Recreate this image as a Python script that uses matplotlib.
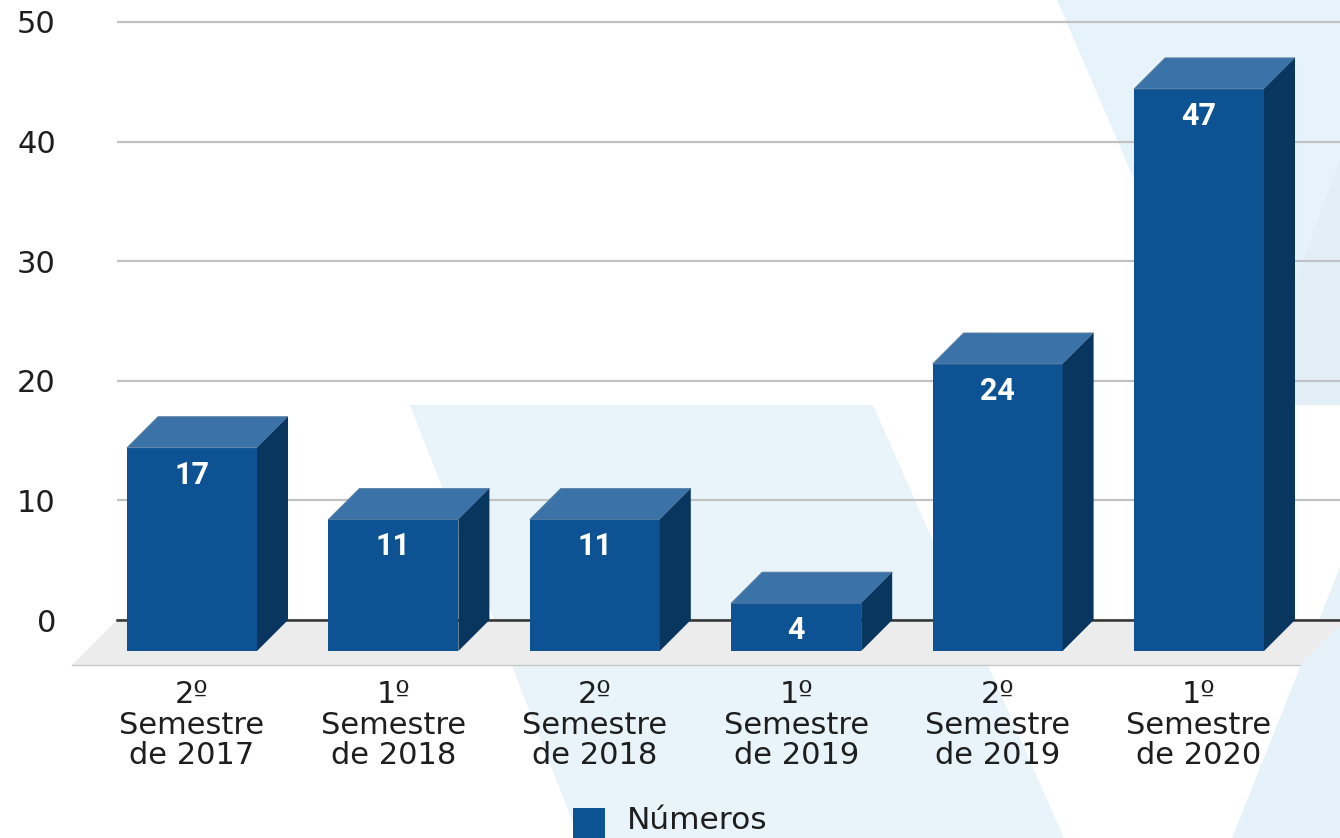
import matplotlib.pyplot as plt
from matplotlib.patches import Polygon, Rectangle

categories = ["2º\nSemestre\nde 2017", "1º\nSemestre\nde 2018", "2º\nSemestre\nde 2018",
              "1º\nSemestre\nde 2019", "2º\nSemestre\nde 2019", "1º\nSemestre\nde 2020"]
values = [17, 11, 11, 4, 24, 47]
y_ticks = [0, 10, 20, 30, 40, 50]
series_name = "Números"

W, H = 1340, 838
FRONT = '#0d5394'
TOP = '#3b73a8'
SIDE = '#08365f'
TEXT = '#1e1e1e'

# pixel layout (top-left origin)
AX_LEFT, AX_RIGHT, AX_TOP, AX_BOTTOM = 117, 1340, 10, 620
PX_PER_CAT = 201.4
FIRST_CENTER = 192
PX_PER_UNIT = 11.96
BAR_W_PX = 130
DEPTH_PX = 31
FLOOR_PX = 45


def px(x, y):
    return (x / W, 1 - y / H)


fig = plt.figure(figsize=(W / 100, H / 100), dpi=100)
fig.patch.set_facecolor('white')

# light blue decorative background shapes
shapes = [
    ([(410, 405), (873, 405), (1064, 838), (579, 838)], '#e8f4fa'),
    ([(1057, 0), (1340, 0), (1340, 405), (1231, 405)], '#e7f3fa'),
    ([(1340, 160), (1340, 405), (1250, 405)], '#e2eff7'),
    ([(1340, 567), (1340, 838), (1232, 838)], '#e6f2f9'),
]
for pts, c in shapes:
    fig.add_artist(Polygon([px(*p) for p in pts], closed=True, transform=fig.transFigure,
                           facecolor=c, edgecolor='none', zorder=-5))

ax = fig.add_axes([AX_LEFT / W, (H - AX_BOTTOM) / H,
                   (AX_RIGHT - AX_LEFT) / W, (AX_BOTTOM - AX_TOP) / H])
ax.set_facecolor('none')
x0 = (AX_LEFT - FIRST_CENTER) / PX_PER_CAT
x1 = (AX_RIGHT - FIRST_CENTER) / PX_PER_CAT
ax.set_xlim(x0, x1)
ax.set_ylim(0, (AX_BOTTOM - AX_TOP) / PX_PER_UNIT)
for s in ax.spines.values():
    s.set_visible(False)

# data-unit sizes of the pseudo-3D geometry
w = BAR_W_PX / PX_PER_CAT
dx = DEPTH_PX / PX_PER_CAT
dy = DEPTH_PX / PX_PER_UNIT
fx = FLOOR_PX / PX_PER_CAT
fy = FLOOR_PX / PX_PER_UNIT

# gridlines on the back wall
ax.set_yticks(y_ticks)
ax.yaxis.grid(True, color='#c2c2c2', linewidth=1.6)
ax.set_axisbelow(True)

# floor, cut diagonally at the right edge
x_end = x1 + 5 / PX_PER_CAT
floor = Polygon([(x0, 0), (x_end, 0), (x_end - fx, -fy), (x0 - fx, -fy)], closed=True,
                facecolor='#ececec', edgecolor='none', zorder=1, clip_on=False)
ax.add_patch(floor)
ax.plot([x0 - fx, x_end - fx], [-fy, -fy], color='#c8c8c8', lw=1.0, zorder=1.2, clip_on=False)
ax.plot([x0, x1], [0, 0], color='#333333', lw=1.8, zorder=1.5, clip_on=False)

# bars
for i, v in enumerate(values):
    left, right = i - w / 2, i + w / 2
    ax.add_patch(Rectangle((left, -dy), w, v, facecolor=FRONT, edgecolor='none',
                           zorder=3, clip_on=False))
    ax.add_patch(Polygon([(left, v - dy), (right, v - dy), (right + dx, v), (left + dx, v)],
                         closed=True, facecolor=TOP, edgecolor='#5d7f9f', lw=0.6,
                         zorder=3, clip_on=False))
    ax.add_patch(Polygon([(right, -dy), (right, v - dy), (right + dx, v), (right + dx, 0)],
                         closed=True, facecolor=SIDE, edgecolor='none',
                         zorder=3, clip_on=False))
    ax.annotate(str(v), xy=(i, v - dy), xytext=(0, -36), textcoords='offset pixels',
                ha='center', va='baseline', color='white', fontsize=22,
                fontweight='bold', fontfamily='Roboto', zorder=6, annotation_clip=False)

ax.set_xticks(range(len(categories)))
ax.set_xticklabels(categories, fontsize=22, linespacing=1.08, color=TEXT)
ax.set_yticklabels([str(t) for t in y_ticks], fontsize=22, color=TEXT)
ax.tick_params(axis='x', length=0, pad=43)
ax.tick_params(axis='y', length=0, pad=44)

# legend
fig.add_artist(Rectangle(px(573, 840), 32 / W, 32 / H, transform=fig.transFigure,
                         facecolor=FRONT, edgecolor='none'))
fig.text(627 / W, 9 / H, series_name, fontsize=22.5, va='baseline', ha='left', color=TEXT)

fig.savefig('out.png', dpi=100)
